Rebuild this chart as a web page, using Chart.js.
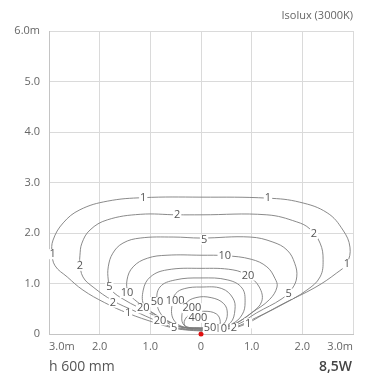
<!DOCTYPE html>
<html>
<head>
<meta charset="utf-8">
<script src="https://cdn.jsdelivr.net/npm/chart.js@4/dist/chart.umd.min.js"></script>
<style>
  html, body { margin: 0; padding: 0; background: #fff; }
  #wrap { position: relative; width: 368px; height: 378px; font-family: "Open Sans", sans-serif; }
  #c { position: absolute; left: 0; top: 0; }
  .txt { position: absolute; white-space: nowrap; line-height: 1; }
  #title { right: 15px; top: 9px; font-size: 11px; color: #666; }
  #height { left: 49px; top: 359px; font-size: 14px; color: #555; }
  #power { right: 16px; top: 359px; font-size: 14px; color: #444; font-weight: 600; }
</style>
</head>
<body>
<div id="wrap">
  <canvas id="c" width="368" height="378"></canvas>
  <div class="txt" id="title">Isolux (3000K)</div>
  <div class="txt" id="height">h 600 mm</div>
  <div class="txt" id="power">8,5W</div>
</div>
<script>
// ---- data (metres) ----
const xTickLabels = ['3.0m', '2.0', '1.0', '0', '1.0', '2.0', '3.0m'];
const yTickLabels = ['0', '1.0', '2.0', '3.0', '4.0', '5.0', '6.0m'];
const levels = [1, 2, 5, 10, 20, 50, 100, 200, 400];

const contour1 = [[0,0.06],[-0.3,0.08],[-0.55,0.12],[-0.9,0.22],[-1.44,0.41],[-1.9,0.62],[-2.33,0.87],[-2.64,1.13],[-2.88,1.35],[-2.94,1.6],[-2.92,1.86],[-2.72,2.2],[-2.39,2.46],[-1.85,2.63],[-1.14,2.7],[0,2.71],[1.32,2.69],[1.95,2.61],[2.49,2.4],[2.8,2.06],[2.94,1.72],[2.88,1.4],[2.68,1.21],[2.25,0.92],[1.64,0.61],[1.2,0.37],[0.93,0.22],[0.65,0.12],[0.3,0.08],[0,0.06]];
const contour2 = [[0,0.07],[-0.3,0.09],[-0.55,0.13],[-0.9,0.27],[-1.3,0.45],[-1.74,0.66],[-2.13,0.93],[-2.33,1.13],[-2.39,1.4],[-2.39,1.55],[-2.35,1.8],[-2.19,2.06],[-1.85,2.26],[-1.2,2.37],[-0.47,2.36],[0,2.36],[1.3,2.36],[1.89,2.22],[2.15,2.08],[2.35,1.8],[2.41,1.47],[2.35,1.13],[2.09,0.87],[1.6,0.58],[1.1,0.33],[0.65,0.13],[0.3,0.09],[0,0.07]];
const contour5 = [[0,0.08],[-0.3,0.1],[-0.5,0.14],[-0.75,0.27],[-1.1,0.46],[-1.5,0.67],[-1.78,0.88],[-1.83,1.07],[-1.83,1.33],[-1.74,1.6],[-1.54,1.8],[-1.2,1.9],[-0.55,1.92],[0,1.9],[0.97,1.92],[1.42,1.82],[1.7,1.66],[1.85,1.4],[1.89,1.13],[1.8,0.9],[1.6,0.7],[1.1,0.42],[0.7,0.18],[0.3,0.1],[0,0.08]];
const contour10 = [[0,0.09],[-0.25,0.11],[-0.45,0.15],[-0.65,0.24],[-0.95,0.42],[-1.25,0.63],[-1.43,0.82],[-1.46,1.07],[-1.34,1.33],[-1.06,1.5],[-0.67,1.56],[0,1.56],[0.49,1.55],[0.99,1.48],[1.3,1.33],[1.46,1.1],[1.5,0.93],[1.35,0.68],[1.0,0.42],[0.68,0.2],[0.5,0.14],[0.25,0.11],[0,0.09]];
const contour20 = [[0,0.1],[-0.25,0.12],[-0.42,0.15],[-0.62,0.24],[-0.9,0.38],[-1.12,0.55],[-1.14,0.87],[-1.0,1.13],[-0.67,1.27],[0,1.3],[0.63,1.27],[0.93,1.15],[1.15,0.93],[1.2,0.65],[1.0,0.42],[0.7,0.22],[0.5,0.15],[0.25,0.12],[0,0.1]];
const contour50 = [[0,0.11],[-0.3,0.13],[-0.55,0.2],[-0.78,0.38],[-0.87,0.63],[-0.81,0.93],[-0.51,1.07],[0,1.11],[0.53,1.07],[0.81,0.91],[0.87,0.63],[0.81,0.38],[0.61,0.2],[0.3,0.13],[0,0.11]];
const contour100 = [[0,0.12],[-0.35,0.14],[-0.55,0.3],[-0.57,0.6],[-0.5,0.8],[-0.32,0.9],[0,0.93],[0.41,0.9],[0.63,0.71],[0.67,0.48],[0.58,0.22],[0.35,0.14],[0,0.12]];
const contour200 = [[0,0.12],[-0.3,0.15],[-0.38,0.3],[-0.3,0.6],[-0.1,0.72],[0.2,0.72],[0.45,0.6],[0.52,0.4],[0.45,0.2],[0.3,0.14],[0,0.12]];
const contour400 = [[0,0.11],[-0.28,0.13],[-0.33,0.25],[-0.2,0.4],[0.05,0.45],[0.3,0.4],[0.38,0.25],[0.33,0.14],[0.15,0.11],[0,0.11]];
const fixture = [[0, 0]];

// contour value labels: [text, x, y]
const contourLabels = [
  ['1',-1.14,2.70],['1',1.32,2.69],['1',-2.93,1.58],['1',2.88,1.38],['1',-1.44,0.41],['1',0.93,0.21],
  ['2',-0.47,2.36],['2',2.23,1.98],['2',-2.39,1.35],['2',-1.74,0.62],['2',0.65,0.12],
  ['5',0.06,1.87],['5',-1.81,0.93],['5',1.73,0.8],['5',-0.53,0.12],
  ['10',-1.46,0.81],['10',0.47,1.54],['10',0.39,0.1],
  ['20',0.93,1.16],['20',-1.14,0.51],['20',-0.81,0.27],
  ['50',-0.87,0.63],['50',0.18,0.12],
  ['100',-0.51,0.65],['200',-0.18,0.51],['400',-0.06,0.32]
];

const contours = [contour1, contour2, contour5, contour10, contour20, contour50, contour100, contour200, contour400];

const toPts = arr => arr.map(p => ({ x: p[0], y: p[1] }));

const datasets = contours.map((c, i) => ({
  label: String(levels[i]),
  data: toPts(c),
  showLine: true,
  borderColor: '#7d7d7d',
  borderWidth: 0.9,
  pointRadius: 0,
  tension: 0.4,
  fill: false
}));
datasets.push({
  label: 'fixture',
  data: toPts(fixture),
  showLine: false,
  pointRadius: 2.5,
  pointBackgroundColor: '#e01010',
  pointBorderWidth: 0,
  clip: false
});

const labelPlugin = {
  id: 'contourLabels',
  afterDatasetsDraw(chart) {
    const ctx = chart.ctx;
    const xs = chart.scales.x, ys = chart.scales.y;
    ctx.save();
    ctx.font = '11px "Open Sans", sans-serif';
    ctx.textAlign = 'center';
    ctx.textBaseline = 'middle';
    contourLabels.forEach(([t, x, y]) => {
      const px = xs.getPixelForValue(x);
      const py = ys.getPixelForValue(y);
      const w = ctx.measureText(t).width;
      ctx.fillStyle = '#ffffff';
      ctx.fillRect(px - w / 2 - 1, py - 5, w + 2, 10);
      ctx.fillStyle = '#555555';
      ctx.fillText(t, px, py);
    });
    ctx.restore();
  }
};

new Chart(document.getElementById('c'), {
  type: 'scatter',
  data: { datasets },
  options: {
    responsive: false,
    animation: false,
    devicePixelRatio: 1,
    layout: { padding: { left: 0, right: 15, top: 31, bottom: 0 } },
    plugins: { legend: { display: false }, tooltip: { enabled: false }, title: { display: false } },
    scales: {
      x: {
        type: 'linear', min: -3, max: 3,
        afterFit(s) { s.height = 44; },
        border: { color: '#c4c4c4' },
        grid: { color: '#dadada', drawTicks: false },
        ticks: {
          stepSize: 1, padding: 6, align: 'inner', color: '#666',
          font: { family: '"Open Sans", sans-serif', size: 11 },
          callback: v => xTickLabels[Math.round(v) + 3]
        }
      },
      y: {
        type: 'linear', min: 0, max: 6,
        afterFit(s) { s.width = 49; },
        border: { color: '#c4c4c4' },
        grid: { color: '#dadada', drawTicks: false },
        ticks: {
          stepSize: 1, padding: 9, color: '#666',
          font: { family: '"Open Sans", sans-serif', size: 11 },
          callback: v => yTickLabels[Math.round(v)]
        }
      }
    }
  },
  plugins: [labelPlugin]
});
</script>
</body>
</html>
